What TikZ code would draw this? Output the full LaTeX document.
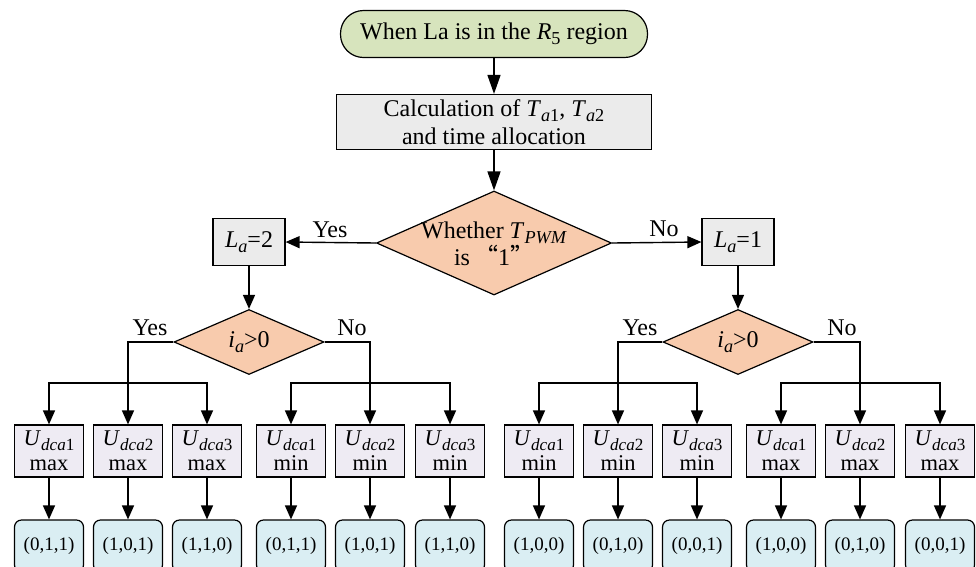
\documentclass[tikz,border=0pt]{standalone}
\usepackage{graphicx}
\usepackage{fontspec}
\setmainfont{Liberation Serif}
\newfontfamily\cjk{Noto Sans CJK SC}
\usetikzlibrary{shapes.geometric,arrows.meta}
\newcommand{\sbx}[1]{\raisebox{-0.22em}{\scalebox{0.76}{#1}}}
\newcommand{\fsmain}{\fontsize{24}{26}\selectfont}
\newcommand{\fsu}{\fontsize{22.5}{25}\selectfont}
\newcommand{\fsres}{\fontsize{19}{20}\selectfont}
\definecolor{sgreen}{HTML}{D7E4BD}
\definecolor{sgray}{HTML}{EBEBEB}
\definecolor{sorange}{HTML}{F8CBAD}
\definecolor{slav}{HTML}{EEEBF3}
\definecolor{sblue}{HTML}{DAEEF3}
\tikzset{
  base/.style={draw=black, line width=1.2pt, inner sep=0pt, align=center},
  startbox/.style={base, fill=sgreen, rounded corners=23pt, minimum width=307pt, minimum height=47pt, font=\fsmain},
  procbox/.style={base, fill=sgray, font=\fsmain},
  decbox/.style={base, diamond, fill=sorange},
  ubox/.style={base, fill=slav, minimum width=69pt, minimum height=52pt, font=\fsu},
  resbox/.style={base, fill=sblue, rounded corners=7pt, minimum width=69pt, minimum height=52pt, font=\fsres},
  lbl/.style={inner sep=0pt, font=\fsmain},
  arr/.style={line width=1.4pt, -{Triangle[length=14pt,width=12pt]}},
  arrlong/.style={line width=1.4pt, -{Triangle[length=19pt,width=13pt]}},
}
\begin{document}
\begin{tikzpicture}[x=1pt,y=-1pt]
\clip (0,0) rectangle (976,566);
\useasboundingbox (0,0) rectangle (976,566);

\node[startbox] (start) at (494,34) {When La is in the \textit{R}\sbx{5} region};
\node[procbox, minimum width=315pt, minimum height=55pt, font=\fontsize{24}{27.5}\selectfont] (calc) at (494,122)
  {Calculation of \textit{T}\sbx{\textit{a}1}, \textit{T}\sbx{\textit{a}2}\\and time allocation};
\node[decbox, minimum width=235pt, minimum height=104pt] (d1) at (494,243) {};
\node[lbl, align=center, font=\fontsize{24}{27}\selectfont] (d1t) at (494,244)
  {Whether \textit{T}\sbx{\textit{PWM}}\\is\,{\cjk“}1{\cjk”}};

\node[procbox, minimum width=72pt, minimum height=47pt] (la2) at (249,242) {\textit{L}\sbx{\textit{a}}=2};
\node[procbox, minimum width=72pt, minimum height=47pt] (la1) at (738,242) {\textit{L}\sbx{\textit{a}}=1};

\draw[arrlong] (start) -- (calc);
\draw[arrlong] (calc) -- (d1);
\draw[arr] (d1.west) -- (la2.east);
\draw[arr] (d1.east) -- (la1.west);
\node[lbl] (yes0) at (330,230) {Yes};
\node[lbl] (no0) at (664,229) {No};

% left branch
\node[decbox, minimum width=150pt, minimum height=65pt] (dl) at (249,342) {};
\node[lbl] (dlt) at (249,342) {\textit{i}\sbx{\textit{a}}>0};
\draw[arr] (la2) -- (dl);
\node[lbl] (yes1) at (150,328) {Yes};
\node[lbl] (no1) at (352,328) {No};

\node[ubox] (u1) at (49,451) {\textit{U}\sbx{\textit{dca}1}\\max};
\node[ubox] (u2) at (128,451) {\textit{U}\sbx{\textit{dca}2}\\max};
\node[ubox] (u3) at (207,451) {\textit{U}\sbx{\textit{dca}3}\\max};
\node[ubox] (u4) at (291,451) {\textit{U}\sbx{\textit{dca}1}\\min};
\node[ubox] (u5) at (370,451) {\textit{U}\sbx{\textit{dca}2}\\min};
\node[ubox] (u6) at (450,451) {\textit{U}\sbx{\textit{dca}3}\\min};

\node[resbox] (r1) at (49,546) {(0,1,1)};
\node[resbox] (r2) at (128,546) {(1,0,1)};
\node[resbox] (r3) at (207,546) {(1,1,0)};
\node[resbox] (r4) at (291,546) {(0,1,1)};
\node[resbox] (r5) at (370,546) {(1,0,1)};
\node[resbox] (r6) at (450,546) {(1,1,0)};

\coordinate (jl1) at (128,383);
\coordinate (jl2) at (370,383);
\draw[arr] (dl.west) -| (u2.north);
\draw[arr] (jl1) -| (u1.north);
\draw[arr] (jl1) -| (u3.north);
\draw[arr] (dl.east) -| (u5.north);
\draw[arr] (jl2) -| (u4.north);
\draw[arr] (jl2) -| (u6.north);
\foreach \i in {1,...,6} { \draw[arr] (u\i) -- (r\i); }

% right branch
\node[decbox, minimum width=150pt, minimum height=65pt] (dr) at (738,342) {};
\node[lbl] (drt) at (738,342) {\textit{i}\sbx{\textit{a}}>0};
\draw[arr] (la1) -- (dr);
\node[lbl] (yes2) at (640,328) {Yes};
\node[lbl] (no2) at (842,328) {No};

\node[ubox] (v1) at (539,451) {\textit{U}\sbx{\textit{dca}1}\\min};
\node[ubox] (v2) at (618,451) {\textit{U}\sbx{\textit{dca}2}\\min};
\node[ubox] (v3) at (697,451) {\textit{U}\sbx{\textit{dca}3}\\min};
\node[ubox] (v4) at (781,451) {\textit{U}\sbx{\textit{dca}1}\\max};
\node[ubox] (v5) at (860,451) {\textit{U}\sbx{\textit{dca}2}\\max};
\node[ubox] (v6) at (940,451) {\textit{U}\sbx{\textit{dca}3}\\max};

\node[resbox] (s1) at (539,546) {(1,0,0)};
\node[resbox] (s2) at (618,546) {(0,1,0)};
\node[resbox] (s3) at (697,546) {(0,0,1)};
\node[resbox] (s4) at (781,546) {(1,0,0)};
\node[resbox] (s5) at (860,546) {(0,1,0)};
\node[resbox] (s6) at (940,546) {(0,0,1)};

\coordinate (jr1) at (618,383);
\coordinate (jr2) at (860,383);
\draw[arr] (dr.west) -| (v2.north);
\draw[arr] (jr1) -| (v1.north);
\draw[arr] (jr1) -| (v3.north);
\draw[arr] (dr.east) -| (v5.north);
\draw[arr] (jr2) -| (v4.north);
\draw[arr] (jr2) -| (v6.north);
\foreach \i in {1,...,6} { \draw[arr] (v\i) -- (s\i); }
\end{tikzpicture}
\end{document}
